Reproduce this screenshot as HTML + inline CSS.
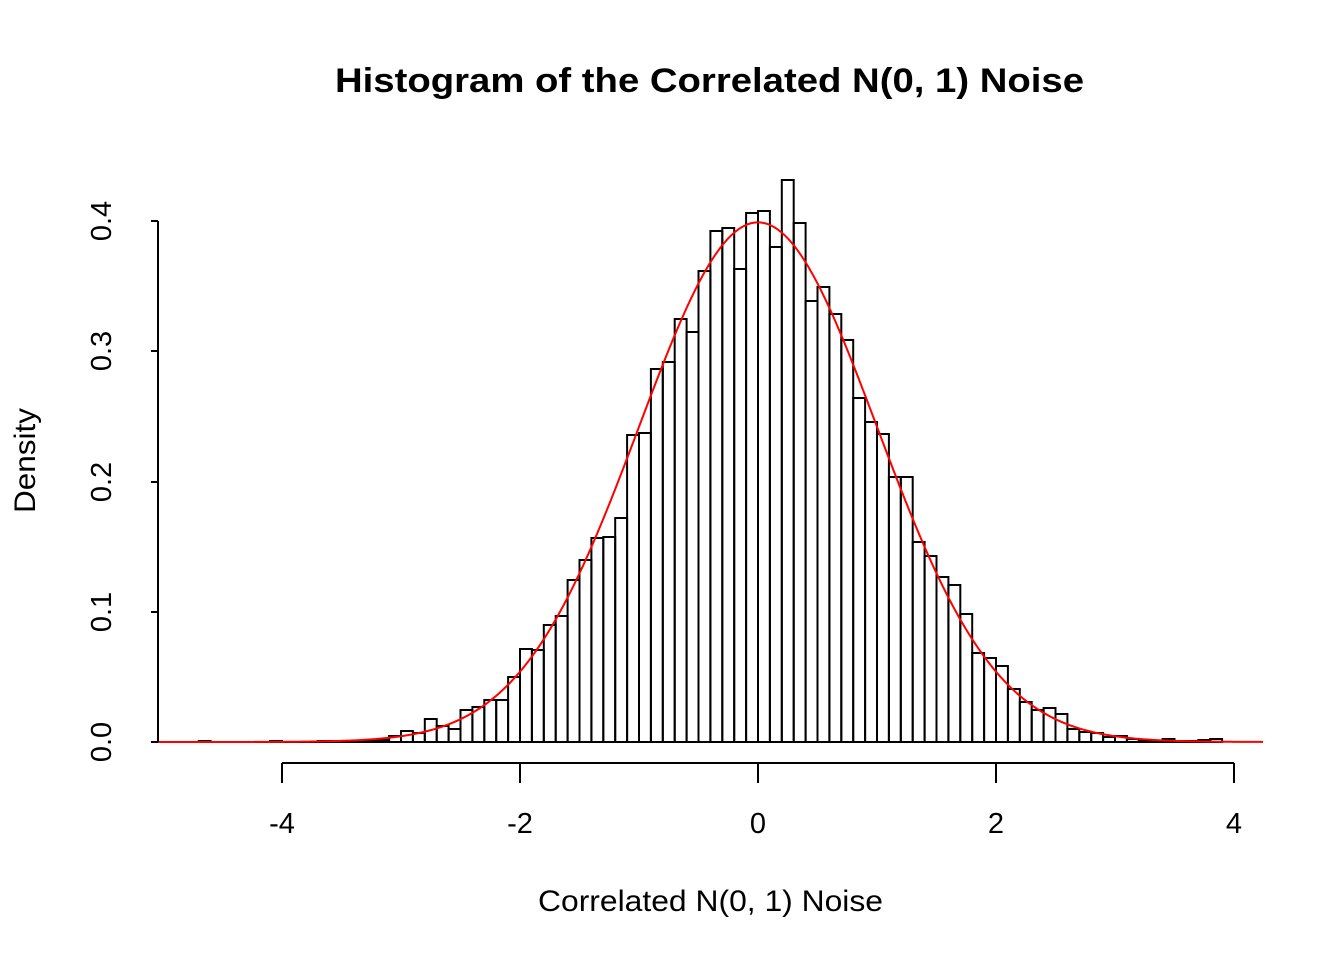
<!DOCTYPE html>
<html><head><meta charset="utf-8"><style>
html,body{margin:0;padding:0;background:#fff;}
svg{display:block;font-family:"Liberation Sans",Arial,sans-serif;}
</style></head><body>
<svg id="s" width="1344" height="960" viewBox="0 0 1344 960" xmlns="http://www.w3.org/2000/svg">
<rect width="1344" height="960" fill="#fff"/>
<text x="335" y="92" font-size="34" font-weight="bold" textLength="749" lengthAdjust="spacingAndGlyphs">Histogram of the Correlated N(0, 1) Noise</text>
<text x="538" y="911" font-size="30" textLength="345" lengthAdjust="spacingAndGlyphs">Correlated N(0, 1) Noise</text>
<text transform="translate(35,513) rotate(-90)" font-size="30" textLength="105" lengthAdjust="spacingAndGlyphs">Density</text>
<g id="bars" fill="none" stroke="#000" stroke-width="2"></g>
<line x1="199" y1="742" x2="1222" y2="742" stroke="#000" stroke-width="2"/>
<path id="curve" fill="none" stroke="#f00" stroke-width="2"/>
<g stroke="#000" stroke-width="2">
<line x1="158" y1="221" x2="158" y2="742"/>
<line x1="151" y1="742" x2="158" y2="742"/>
<line x1="151" y1="612" x2="158" y2="612"/>
<line x1="151" y1="482" x2="158" y2="482"/>
<line x1="151" y1="351" x2="158" y2="351"/>
<line x1="151" y1="221" x2="158" y2="221"/>
<line x1="282" y1="763" x2="1234" y2="763"/>
<line x1="282" y1="763" x2="282" y2="783"/>
<line x1="520" y1="763" x2="520" y2="783"/>
<line x1="758" y1="763" x2="758" y2="783"/>
<line x1="996" y1="763" x2="996" y2="783"/>
<line x1="1234" y1="763" x2="1234" y2="783"/>
</g>
<g font-size="29" text-anchor="middle">
<text x="282" y="833">-4</text>
<text x="520" y="833">-2</text>
<text x="758" y="833">0</text>
<text x="996" y="833">2</text>
<text x="1234" y="833">4</text>
<text transform="translate(111,742) rotate(-90)">0.0</text>
<text transform="translate(111,612) rotate(-90)">0.1</text>
<text transform="translate(111,482) rotate(-90)">0.2</text>
<text transform="translate(111,351) rotate(-90)">0.3</text>
<text transform="translate(111,221) rotate(-90)">0.4</text>
</g>
</svg>
<script>
var tops={"-47":741,"-41":741,"-37":741,"-36":741,"-35":741,"-34":741,"-33":741,
"-32":740,"-31":736,"-30":731,"-29":733,"-28":719,"-27":726,"-26":729,"-25":710,"-24":707,"-23":700,"-22":700,"-21":677,"-20":649,"-19":650,"-18":625,"-17":616,"-16":580,"-15":560,"-14":538,"-13":537,"-12":518,"-11":435,"-10":433,
"-9":369,"-8":362,"-7":319,"-6":332,"-5":271,"-4":231,"-3":228,"-2":269,"-1":213,"0":211,"1":247,"2":180,"3":223,"4":301,"5":287,"6":314,"7":340,"8":398,
"9":422,"10":434,"11":477,"12":477,"13":542,"14":556,"15":577,"16":585,"17":614,"18":653,"19":658,"20":666,"21":689,"22":702,"23":710,"24":708,"25":714,"26":729,"27":732,"28":733,"29":737,"30":736,"31":739,"32":740,"33":741,"34":739,"35":741,"36":741,"37":740,"38":739};
var g=document.getElementById("bars"),h="";
for(var k in tops){var x=758+11.9*(+k),t=tops[k];
h+='<rect x="'+x.toFixed(1)+'" y="'+t+'" width="11.9" height="'+(742-t)+'"/>';}
g.innerHTML=h;
var d="";for(var px=155;px<=1263;px+=2){var x=(px-758)/119;var y=742-1302.5*Math.exp(-x*x/2)/Math.sqrt(2*Math.PI);
d+=(px==155?"M":"L")+px+","+y.toFixed(2);}
document.getElementById("curve").setAttribute("d",d);
</script>
</body></html>
